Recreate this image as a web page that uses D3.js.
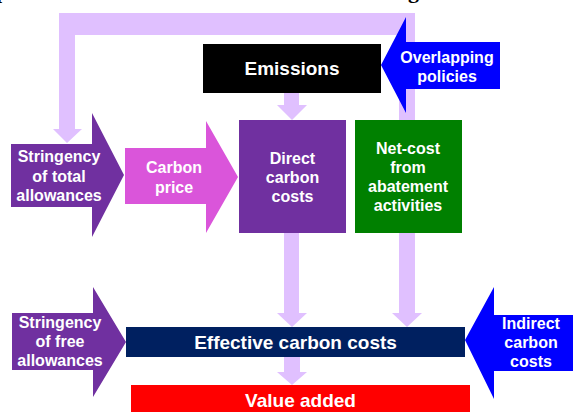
<!DOCTYPE html>
<html>
<head>
<meta charset="utf-8">
<script src="https://cdn.jsdelivr.net/npm/d3@7"></script>
<style>
  html, body { margin: 0; padding: 0; background: #fff; }
  svg text { font-family: "Liberation Sans", Arial, sans-serif; font-weight: bold; fill: #fff; }
</style>
</head>
<body>
<svg width="573" height="412"></svg>
<script>
// Labels of the diagram (one entry per line)
var titleFragments = ["p", "g"];
var emissionsLabel = ["Emissions"];
var overlappingLabel = ["Overlapping", "policies"];
var totalAllowLabel = ["Stringency", "of total", "allowances"];
var carbonPriceLabel = ["Carbon", "price"];
var directLabel = ["Direct", "carbon", "costs"];
var netCostLabel = ["Net-cost", "from", "abatement", "activities"];
var freeAllowLabel = ["Stringency", "of free", "allowances"];
var effectiveLabel = ["Effective carbon costs"];
var indirectLabel = ["Indirect", "carbon", "costs"];
var valueAddedLabel = ["Value added"];

var svg = d3.select("svg");
var line = d3.line();

var lilac = "#e0c0ff";

function poly(pts, fill) {
    svg.append("path")
        .attr("d", line(pts) + "Z")
        .attr("fill", fill);
}

// arrow pointing right
function rightArrow(x0, xh, tip, s0, s1, ht, hb, ty, fill) {
    poly([[x0, s0], [xh, s0], [xh, ht], [tip, ty], [xh, hb], [xh, s1], [x0, s1]], fill);
}

// arrow pointing left
function leftArrow(tip, xh, x1, s0, s1, ht, hb, ty, fill) {
    poly([[tip, ty], [xh, ht], [xh, s0], [x1, s0], [x1, s1], [xh, s1], [xh, hb]], fill);
}

// arrow pointing down
function downArrow(x0, x1, y0, yh, hx0, hx1, yt, fill) {
    var cx = (hx0 + hx1) / 2;
    poly([[x0, y0], [x1, y0], [x1, yh], [hx1, yh], [cx, yt], [hx0, yh], [x0, yh]], fill);
}

function box(x, y, w, h, fill) {
    svg.append("rect")
        .attr("x", x).attr("y", y)
        .attr("width", w).attr("height", h)
        .attr("fill", fill);
}

function label(lines, cx, y0, dy, size) {
    svg.append("g").selectAll("text")
        .data(lines)
        .join("text")
        .attr("x", cx)
        .attr("y", function(d, i) { return y0 + i * dy; })
        .attr("text-anchor", "middle")
        .attr("font-size", size + "px")
        .text(function(d) { return d; });
}

// cropped title at the very top
svg.append("g").selectAll("text")
    .data(titleFragments)
    .join("text")
    .attr("x", function(d, i) { return i === 0 ? -4 : 408; })
    .attr("y", -2)
    .attr("font-size", "22px")
    .style("font-family", "'Liberation Serif', 'Times New Roman', serif")
    .style("fill", "#000")
    .text(function(d) { return d; });

// feedback loop (light lilac)
poly([
    [59, 13], [415, 13], [415, 313], [422, 313], [407, 327], [392, 313], [399, 313],
    [399, 35], [75, 35], [75, 129], [82, 129], [67, 143], [53, 129], [59, 129]
], lilac);

// vertical connectors
downArrow(284, 299, 93, 105, 277, 307, 120, lilac);
downArrow(284, 299, 233, 313, 277, 307, 327, lilac);
downArrow(284, 300, 357, 372, 277, 307, 385, lilac);

// top row
box(203, 44, 178, 49, "#000");
label(emissionsLabel, 292, 75, 0, 19);

leftArrow(381, 406, 500, 42, 89, 17, 113, 65, "#0000ff");
label(overlappingLabel, 447, 63, 19, 16);

rightArrow(11, 92, 124, 144, 207, 113, 237, 175, "#7030a0");
label(totalAllowLabel, 59, 162, 19.5, 16);

rightArrow(125, 206, 238, 148, 204, 121, 233, 177, "#da55da");
label(carbonPriceLabel, 174, 173, 19.5, 16);

box(239, 120, 107, 113, "#7030a0");
label(directLabel, 292.5, 164, 19, 16);

box(355, 120, 107, 113, "#008000");
label(netCostLabel, 408, 154, 19, 16);

// bottom row
rightArrow(12, 93, 126, 313, 370, 287, 397, 342, "#7030a0");
label(freeAllowLabel, 60, 328, 19, 16);

box(126, 327, 339, 30, "#002060");
label(effectiveLabel, 295.5, 349, 0, 19);

leftArrow(465, 494, 573, 315, 371, 287, 399, 340, "#0000ff");
label(indirectLabel, 531, 329, 19, 16);

box(131, 385, 339, 40, "#ff0000");
label(valueAddedLabel, 300.5, 407, 0, 19);
</script>
</body>
</html>
